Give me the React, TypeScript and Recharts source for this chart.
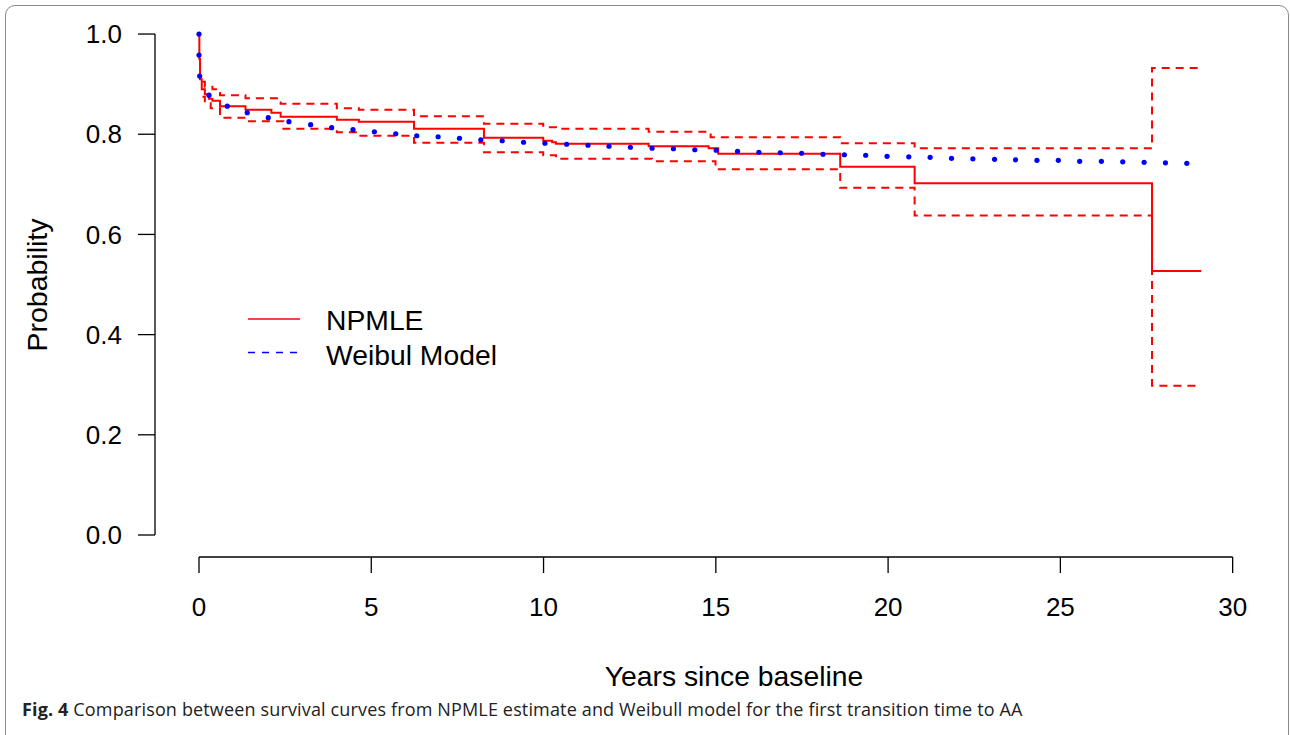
import React from "react";
import {
  ComposedChart,
  Line,
  Scatter,
  XAxis,
  YAxis,
  ReferenceLine,
} from "recharts";

// NPMLE step estimate (years, survival probability)
const npmleTimes = [0, 0.01, 0.03, 0.08, 0.17, 0.29, 0.39, 0.61, 1.35, 2.1, 2.37, 4.0, 4.64, 6.24, 8.27, 9.99, 10.25, 10.36, 13.05, 14.79, 15.07, 18.61, 20.77, 27.66, 29.09];
const npmleSurv = [1.0, 0.95, 0.91, 0.89, 0.88, 0.871, 0.867, 0.856, 0.849, 0.843, 0.835, 0.829, 0.825, 0.811, 0.793, 0.787, 0.784, 0.781, 0.776, 0.772, 0.761, 0.735, 0.702, 0.527, 0.527];

// pointwise confidence band
const upperTimes = [0.1, 0.17, 0.39, 0.61, 1.35, 2.37, 4.0, 4.64, 6.24, 8.27, 9.99, 10.36, 13.05, 14.85, 18.61, 20.77, 27.66, 29.09];
const upperSurv = [0.905, 0.895, 0.89, 0.878, 0.872, 0.861, 0.852, 0.849, 0.836, 0.821, 0.814, 0.811, 0.805, 0.794, 0.782, 0.772, 0.932, 0.932];
const lowerTimes = [0.1, 0.17, 0.34, 0.61, 1.35, 2.45, 4.0, 4.64, 6.24, 8.27, 9.99, 10.36, 13.15, 14.99, 18.61, 20.77, 27.66, 29.09];
const lowerSurv = [0.875, 0.862, 0.852, 0.833, 0.826, 0.811, 0.804, 0.797, 0.783, 0.764, 0.758, 0.751, 0.746, 0.73, 0.693, 0.638, 0.298, 0.298];

// Weibull model curve, as drawn with a dotted line
const weibullTimes = [0, 0, 0.02, 0.29, 0.82, 1.4, 2.01, 2.61, 3.24, 3.85, 4.47, 5.09, 5.71, 6.32, 6.94, 7.56, 8.18, 8.8, 9.42, 10.04, 10.67, 11.29, 11.9, 12.52, 13.15, 13.77, 14.39, 15.01, 15.63, 16.25, 16.87, 17.49, 18.11, 18.73, 19.35, 19.97, 20.6, 21.22, 21.84, 22.46, 23.09, 23.7, 24.32, 24.94, 25.56, 26.19, 26.81, 27.43, 28.05, 28.67];
const weibullSurv = [1.0, 0.958, 0.916, 0.878, 0.856, 0.843, 0.833, 0.825, 0.819, 0.813, 0.809, 0.805, 0.801, 0.797, 0.795, 0.792, 0.789, 0.787, 0.784, 0.782, 0.78, 0.778, 0.776, 0.774, 0.772, 0.771, 0.769, 0.768, 0.766, 0.764, 0.763, 0.762, 0.76, 0.759, 0.758, 0.756, 0.755, 0.754, 0.752, 0.751, 0.75, 0.749, 0.748, 0.748, 0.746, 0.746, 0.745, 0.744, 0.743, 0.742];

const xTicks = [0, 5, 10, 15, 20, 25, 30];
const yTicks = [0, 0.2, 0.4, 0.6, 0.8, 1.0];

const zip = (xs: number[], ys: number[]) => xs.map((x, i) => ({ x, y: ys[i] }));

const X_MIN = -1.277;
const Y_MIN = -0.0439;
const FONT = "'Liberation Sans', Arial, Helvetica, sans-serif";

const RED = "#ff0000";
const BLUE = "#0000ff";

export default function App() {
  const npmle = zip(npmleTimes, npmleSurv);
  const upper = zip(upperTimes, upperSurv);
  const lower = zip(lowerTimes, lowerSurv);
  const weibull = zip(weibullTimes, weibullSurv);

  return (
    <div
      style={{
        position: "absolute",
        left: 0,
        top: 0,
        width: 1290,
        height: 735,
        background: "#fff",
        overflow: "hidden",
      }}
    >
      <div
        style={{
          position: "absolute",
          left: 5,
          top: 5,
          width: 1282,
          height: 800,
          border: "1.5px solid #8a8a8a",
          borderRadius: 10,
        }}
      />

      <ComposedChart
        width={1290}
        height={735}
        margin={{ top: 14, right: 16, left: 0, bottom: 0 }}
        style={{ position: "absolute", left: 0, top: 0 }}
      >
        <XAxis
          type="number"
          dataKey="x"
          domain={[X_MIN, 31.2]}
          allowDataOverflow
          ticks={xTicks}
          axisLine={false}
          tickLine={{ stroke: "#000", strokeWidth: 1.3 }}
          tickSize={16}
          tickMargin={25}
          height={178}
          tick={{ fill: "#000", fontSize: 26, fontFamily: FONT }}
        />
        <YAxis
          type="number"
          dataKey="y"
          domain={[Y_MIN, 1.04]}
          allowDataOverflow
          ticks={yTicks}
          tickFormatter={(v: number) => v.toFixed(1)}
          axisLine={false}
          tickLine={{ stroke: "#000", strokeWidth: 1.3 }}
          tickSize={17}
          tickMargin={16}
          width={155}
          tick={{ fill: "#000", fontSize: 26, fontFamily: FONT }}
        />

        <ReferenceLine
          segment={[
            { x: 0, y: Y_MIN },
            { x: 30, y: Y_MIN },
          ]}
          stroke="#000"
          strokeWidth={1.3}
          ifOverflow="visible"
        />
        <ReferenceLine
          segment={[
            { x: X_MIN, y: 0 },
            { x: X_MIN, y: 1 },
          ]}
          stroke="#000"
          strokeWidth={1.3}
          ifOverflow="visible"
        />

        <Line
          data={upper}
          dataKey="y"
          type="stepAfter"
          stroke={RED}
          strokeWidth={2}
          strokeDasharray="8 6"
          dot={false}
          isAnimationActive={false}
        />
        <Line
          data={lower}
          dataKey="y"
          type="stepAfter"
          stroke={RED}
          strokeWidth={2}
          strokeDasharray="8 6"
          dot={false}
          isAnimationActive={false}
        />
        <Line
          data={npmle}
          dataKey="y"
          type="stepAfter"
          stroke={RED}
          strokeWidth={2}
          dot={false}
          isAnimationActive={false}
        />
        <Scatter
          data={weibull}
          fill={BLUE}
          isAnimationActive={false}
          shape={(p: any) => <circle cx={p.cx} cy={p.cy} r={2.6} fill={BLUE} />}
        />
      </ComposedChart>

      <svg
        width={1290}
        height={735}
        style={{ position: "absolute", left: 0, top: 0, pointerEvents: "none" }}
      >
        {/* legend */}
        <line x1={248} x2={300} y1={319} y2={319} stroke={RED} strokeWidth={1.5} />
        <line x1={248} x2={300} y1={352.5} y2={352.5} stroke={BLUE} strokeWidth={1.5} strokeDasharray="7 7" />
        <text x={326} y={330} fontSize={28.3} fontFamily={FONT} fill="#000">NPMLE</text>
        <text x={326} y={365} fontSize={28.3} fontFamily={FONT} fill="#000">Weibul Model</text>

        {/* axis titles */}
        <text
          x={734}
          y={686}
          textAnchor="middle"
          fontSize={28.3}
          fontFamily={FONT}
          fill="#000"
        >
          Years since baseline
        </text>
        <text
          transform="translate(47,285) rotate(-90)"
          textAnchor="middle"
          fontSize={28.5}
          fontFamily={FONT}
          fill="#000"
        >
          Probability
        </text>
      </svg>

      <div
        style={{
          position: "absolute",
          left: 22,
          top: 697,
          fontFamily: "'Open Sans', 'Noto Sans', sans-serif",
          fontSize: 18,
          color: "#222",
          whiteSpace: "nowrap",
          letterSpacing: 0.15,
        }}
      >
        <b>Fig. 4</b> Comparison between survival curves from NPMLE estimate and Weibull model for the first transition time to AA
      </div>
    </div>
  );
}
